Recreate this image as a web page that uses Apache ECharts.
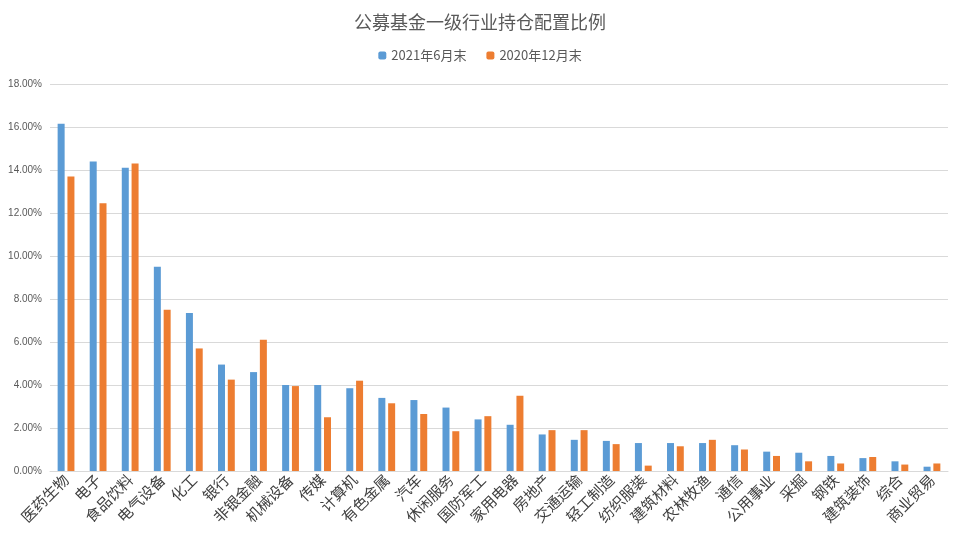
<!DOCTYPE html>
<html lang="zh">
<head>
<meta charset="UTF-8">
<title>公募基金一级行业持仓配置比例</title>
<script src="https://cdn.jsdelivr.net/npm/echarts@6/dist/echarts.min.js"></script>
<style>html,body{margin:0;padding:0;background:#fff}</style>
</head>
<body>
<div id="main" style="width:960px;height:546px;"></div>
<script>
var categories = ['医药生物','电子','食品饮料','电气设备','化工','银行','非银金融','机械设备','传媒','计算机','有色金属','汽车','休闲服务','国防军工','家用电器','房地产','交通运输','轻工制造','纺织服装','建筑材料','农林牧渔','通信','公用事业','采掘','钢铁','建筑装饰','综合','商业贸易'];
var jun2021 = [16.15,14.4,14.1,9.5,7.35,4.95,4.6,4.0,4.0,3.85,3.4,3.3,2.95,2.4,2.15,1.7,1.45,1.4,1.3,1.3,1.3,1.2,0.9,0.85,0.7,0.6,0.45,0.2];
var dec2020 = [13.7,12.45,14.3,7.5,5.7,4.25,6.1,3.95,2.5,4.2,3.15,2.65,1.85,2.55,3.5,1.9,1.9,1.25,0.25,1.15,1.45,1.0,0.7,0.45,0.35,0.65,0.3,0.35];

var myChart = echarts.init(document.getElementById('main'));
myChart.setOption({
    animation: false,
    title: {
        text: '公募基金一级行业持仓配置比例',
        left: 'center', top: 8,
        textStyle: {fontSize: 18, fontWeight: 'normal', color: '#595959', fontFamily: 'Noto Sans CJK SC'}
    },
    legend: {
        top: 44, left: 'center', itemWidth: 8, itemHeight: 8, itemGap: 20,
        textStyle: {fontSize: 13, color: '#595959', fontFamily: 'Noto Sans CJK SC'},
        data: ['2021年6月末', '2020年12月末']
    },
    grid: {left: 50, right: 12, top: 84, bottom: 75},
    xAxis: {
        type: 'category', data: categories,
        axisTick: {show: false},
        axisLine: {lineStyle: {color: '#d9d9d9'}},
        axisLabel: {rotate: 45, interval: 0, fontSize: 15, color: '#404040', fontFamily: 'Noto Sans CJK SC', margin: 6}
    },
    yAxis: {
        type: 'value', min: 0, max: 18, interval: 2,
        axisLabel: {formatter: function (v) { return v.toFixed(2) + '%'; }, fontSize: 10, color: '#595959'},
        splitLine: {lineStyle: {color: '#d9d9d9'}}
    },
    series: [
        {name: '2021年6月末', type: 'bar', data: jun2021, barWidth: 7, barGap: '40%', itemStyle: {color: '#5b9bd5'}},
        {name: '2020年12月末', type: 'bar', data: dec2020, barWidth: 7, itemStyle: {color: '#ed7d31'}}
    ]
});
</script>
</body>
</html>
